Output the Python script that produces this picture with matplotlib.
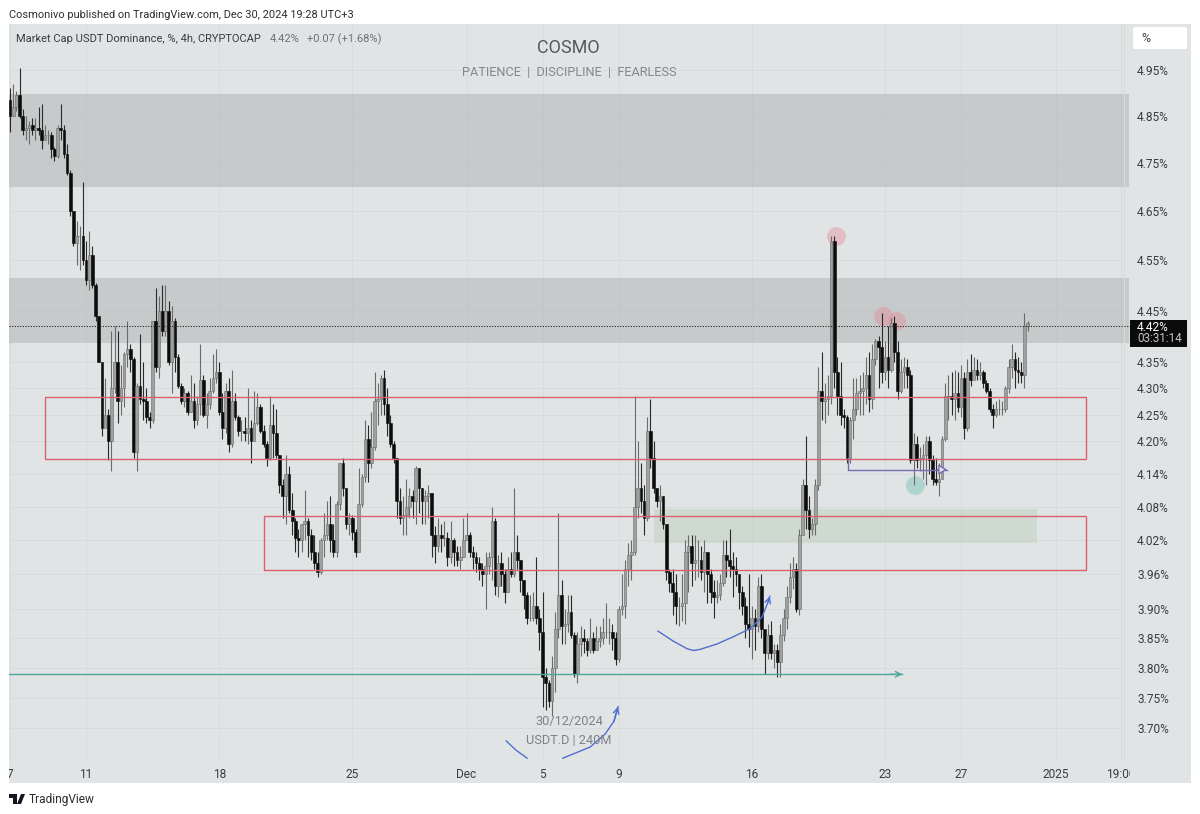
from matplotlib import pyplot as plt
from matplotlib.patches import Rectangle, FancyBboxPatch, Polygon
from matplotlib.transforms import Bbox

first_open = 4.885

# 4h bars, one row per day, Nov 7 .. Dec 30
closes = [
    4.85, 4.87, 4.895, 4.85, 4.82, 4.825,
    4.83, 4.82, 4.825, 4.82, 4.80, 4.81,
    4.81, 4.78, 4.765, 4.825, 4.82, 4.77,
    4.73, 4.65, 4.585, 4.60, 4.60, 4.55,
    4.51, 4.56, 4.50, 4.44, 4.35, 4.225,
    4.25, 4.20, 4.30, 4.35, 4.275, 4.30,
    4.365, 4.375, 4.355, 4.18, 4.305, 4.28,
    4.275, 4.245, 4.24, 4.43, 4.34, 4.45,
    4.41, 4.45, 4.35, 4.43, 4.36, 4.305,
    4.275, 4.29, 4.255, 4.275, 4.24, 4.27,
    4.315, 4.25, 4.27, 4.295, 4.32, 4.33,
    4.255, 4.225, 4.295, 4.195, 4.275, 4.245,
    4.22, 4.22, 4.215, 4.225, 4.20, 4.235,
    4.265, 4.22, 4.195, 4.17, 4.23, 4.215,
    4.175, 4.12, 4.10, 4.14, 4.075, 4.055,
    4.025, 4.02, 4.05, 4.055, 4.03, 4.00,
    3.98, 3.965, 4.02, 4.03, 4.05, 4.02,
    4.00, 4.085, 4.16, 4.115, 4.05, 4.06,
    4.035, 4.00, 4.085, 4.135, 4.205, 4.16,
    4.19, 4.275, 4.28, 4.32, 4.27, 4.235,
    4.195, 4.17, 4.09, 4.06, 4.065, 4.08,
    4.10, 4.09, 4.15, 4.115, 4.09, 4.10,
    4.105, 4.03, 4.01, 4.03, 4.025, 4.025,
    3.99, 4.02, 4.00, 3.985, 3.99, 4.02,
    4.03, 4.00, 3.99, 3.98, 3.97, 3.96,
    3.975, 3.99, 4.055, 3.94, 3.98, 3.96,
    3.93, 3.97, 3.96, 4.00, 3.985, 3.95,
    3.925, 3.885, 3.885, 3.905, 3.885, 3.86,
    3.785, 3.775, 3.745, 3.80, 3.865, 3.925,
    3.87, 3.875, 3.895, 3.855, 3.79, 3.84,
    3.85, 3.845, 3.83, 3.85, 3.83, 3.845,
    3.85, 3.86, 3.86, 3.86, 3.85, 3.815,
    3.90, 3.905, 3.97, 3.995, 4.00, 4.08,
    4.115, 4.09, 4.06, 4.22, 4.17, 4.115,
    4.09, 4.10, 4.05, 3.965, 3.945, 3.93,
    3.905, 3.905, 3.91, 4.00, 4.01, 3.98,
    3.985, 3.985, 3.965, 4.00, 3.96, 3.93,
    3.92, 3.925, 3.945, 3.995, 3.985, 3.975,
    3.97, 3.96, 3.93, 3.905, 3.875, 3.865,
    3.885, 3.87, 3.94, 3.865, 3.825, 3.855,
    3.825, 3.83, 3.81, 3.855, 3.885, 3.92,
    3.955, 3.97, 3.90, 4.03, 4.12, 4.075,
    4.04, 4.05, 4.12, 4.295, 4.275, 4.28,
    4.285, 4.59, 4.33, 4.285, 4.25, 4.245,
    4.17, 4.24, 4.26, 4.29, 4.295, 4.30,
    4.325, 4.28, 4.355, 4.39, 4.38, 4.33,
    4.36, 4.335, 4.425, 4.37, 4.295, 4.33,
    4.34, 4.325, 4.165, 4.195, 4.165, 4.17,
    4.175, 4.20, 4.165, 4.13, 4.125, 4.13,
    4.205, 4.285, 4.285, 4.28, 4.29, 4.265,
    4.32, 4.225, 4.33, 4.315, 4.335, 4.325,
    4.33, 4.31, 4.295, 4.26, 4.25, 4.26,
    4.26, 4.26, 4.30, 4.34, 4.355, 4.335,
    4.33, 4.325, 4.42, 4.425,
]
highs = [
    4.91, 4.92, 4.905, 4.955, 4.865, 4.85,
    4.84, 4.845, 4.845, 4.87, 4.875, 4.83,
    4.82, 4.815, 4.785, 4.83, 4.875, 4.83,
    4.79, 4.735, 4.65, 4.63, 4.62, 4.71,
    4.59, 4.61, 4.58, 4.505, 4.44, 4.35,
    4.32, 4.26, 4.41, 4.42, 4.41, 4.345,
    4.37, 4.43, 4.385, 4.36, 4.31, 4.405,
    4.35, 4.30, 4.255, 4.43, 4.495, 4.48,
    4.50, 4.50, 4.47, 4.46, 4.435, 4.365,
    4.31, 4.30, 4.295, 4.325, 4.31, 4.285,
    4.385, 4.325, 4.29, 4.32, 4.365, 4.375,
    4.35, 4.29, 4.31, 4.32, 4.335, 4.29,
    4.25, 4.24, 4.245, 4.30, 4.24, 4.295,
    4.29, 4.27, 4.23, 4.20, 4.285, 4.27,
    4.26, 4.175, 4.13, 4.175, 4.155, 4.105,
    4.06, 4.04, 4.05, 4.11, 4.06, 4.04,
    4.03, 4.00, 4.025, 4.07, 4.09, 4.10,
    4.05, 4.09, 4.16, 4.17, 4.115, 4.07,
    4.065, 4.04, 4.15, 4.14, 4.24, 4.23,
    4.255, 4.33, 4.31, 4.325, 4.335, 4.30,
    4.25, 4.20, 4.17, 4.115, 4.10, 4.13,
    4.115, 4.11, 4.155, 4.15, 4.115, 4.11,
    4.12, 4.105, 4.045, 4.06, 4.05, 4.055,
    4.035, 4.055, 4.025, 4.01, 4.01, 4.06,
    4.07, 4.035, 4.01, 4.00, 3.99, 3.98,
    4.00, 4.00, 4.08, 4.06, 3.995, 4.00,
    3.97, 3.99, 4.00, 4.115, 4.03, 3.985,
    3.95, 3.93, 3.925, 3.93, 3.99, 3.90,
    3.93, 3.80, 3.78, 3.82, 3.895, 4.07,
    3.95, 3.90, 3.925, 3.925, 3.86, 3.86,
    3.87, 3.865, 3.85, 3.885, 3.86, 3.87,
    3.87, 3.885, 3.91, 3.885, 3.875, 3.86,
    3.905, 3.96, 3.985, 4.015, 4.02, 4.285,
    4.20, 4.16, 4.12, 4.245, 4.28, 4.20,
    4.115, 4.12, 4.10, 4.05, 3.97, 3.97,
    3.96, 3.92, 3.96, 4.02, 4.03, 4.03,
    4.03, 4.02, 4.01, 4.02, 4.00, 3.97,
    3.95, 3.95, 3.96, 4.02, 4.02, 4.04,
    4.00, 3.99, 3.95, 3.94, 3.92, 3.96,
    3.905, 3.90, 3.955, 3.96, 3.86, 3.875,
    3.88, 3.84, 3.84, 3.875, 3.90, 3.94,
    3.98, 3.99, 3.98, 4.04, 4.13, 4.21,
    4.10, 4.06, 4.13, 4.34, 4.37, 4.31,
    4.325, 4.60, 4.60, 4.36, 4.35, 4.26,
    4.25, 4.245, 4.32, 4.32, 4.325, 4.33,
    4.36, 4.37, 4.385, 4.395, 4.40, 4.445,
    4.39, 4.42, 4.435, 4.44, 4.39, 4.355,
    4.36, 4.355, 4.335, 4.215, 4.21, 4.19,
    4.195, 4.21, 4.21, 4.175, 4.17, 4.16,
    4.21, 4.31, 4.325, 4.33, 4.335, 4.33,
    4.345, 4.33, 4.355, 4.365, 4.36, 4.355,
    4.35, 4.335, 4.315, 4.30, 4.27, 4.275,
    4.28, 4.275, 4.305, 4.355, 4.385, 4.37,
    4.36, 4.35, 4.445, 4.43,
]
lows = [
    4.815, 4.85, 4.86, 4.845, 4.81, 4.80,
    4.79, 4.81, 4.80, 4.81, 4.78, 4.80,
    4.79, 4.76, 4.755, 4.76, 4.80, 4.76,
    4.725, 4.64, 4.58, 4.54, 4.53, 4.54,
    4.50, 4.49, 4.495, 4.43, 4.35, 4.21,
    4.225, 4.165, 4.145, 4.29, 4.235, 4.25,
    4.265, 4.34, 4.33, 4.17, 4.145, 4.27,
    4.24, 4.235, 4.225, 4.235, 4.33, 4.32,
    4.40, 4.40, 4.345, 4.29, 4.33, 4.30,
    4.27, 4.265, 4.25, 4.255, 4.225, 4.23,
    4.25, 4.245, 4.225, 4.26, 4.29, 4.31,
    4.25, 4.205, 4.215, 4.18, 4.19, 4.24,
    4.21, 4.20, 4.20, 4.195, 4.16, 4.20,
    4.23, 4.215, 4.19, 4.155, 4.165, 4.17,
    4.17, 4.105, 4.06, 4.05, 4.07, 4.03,
    4.00, 3.99, 4.00, 4.02, 3.99, 3.985,
    3.97, 3.955, 3.96, 3.99, 4.02, 4.00,
    3.99, 3.99, 4.075, 4.10, 4.04, 4.03,
    4.02, 3.99, 4.00, 4.08, 4.125, 4.125,
    4.15, 4.185, 4.23, 4.25, 4.25, 4.21,
    4.19, 4.16, 4.06, 4.05, 4.03, 4.03,
    4.06, 4.06, 4.05, 4.07, 4.05, 4.05,
    4.06, 3.99, 3.98, 4.00, 4.00, 4.01,
    3.975, 3.98, 3.975, 3.975, 3.97, 3.99,
    4.02, 3.99, 3.97, 3.965, 3.95, 3.94,
    3.90, 3.96, 3.95, 3.925, 3.92, 3.94,
    3.91, 3.93, 3.955, 3.955, 3.97, 3.93,
    3.90, 3.875, 3.88, 3.88, 3.875, 3.83,
    3.735, 3.73, 3.735, 3.72, 3.76, 3.85,
    3.84, 3.84, 3.86, 3.85, 3.785, 3.775,
    3.82, 3.825, 3.82, 3.825, 3.825, 3.83,
    3.835, 3.84, 3.85, 3.84, 3.83, 3.805,
    3.81, 3.89, 3.885, 3.94, 3.95, 3.995,
    4.06, 4.07, 4.03, 4.055, 4.15, 4.105,
    4.08, 4.055, 4.04, 3.95, 3.93, 3.89,
    3.875, 3.87, 3.88, 3.875, 3.93, 3.94,
    3.95, 3.955, 3.95, 3.93, 3.91, 3.91,
    3.885, 3.91, 3.915, 3.94, 3.955, 3.955,
    3.92, 3.94, 3.90, 3.89, 3.85, 3.835,
    3.815, 3.83, 3.86, 3.85, 3.79, 3.815,
    3.815, 3.80, 3.785, 3.785, 3.845, 3.865,
    3.91, 3.935, 3.895, 3.89, 4.03, 4.04,
    4.025, 4.03, 4.03, 4.11, 4.24, 4.235,
    4.25, 4.27, 4.30, 4.25, 4.23, 4.225,
    4.16, 4.16, 4.205, 4.25, 4.25, 4.25,
    4.27, 4.255, 4.26, 4.345, 4.30, 4.31,
    4.315, 4.30, 4.33, 4.35, 4.28, 4.29,
    4.30, 4.30, 4.16, 4.12, 4.15, 4.145,
    4.13, 4.12, 4.14, 4.12, 4.12, 4.10,
    4.13, 4.20, 4.24, 4.25, 4.24, 4.255,
    4.245, 4.205, 4.22, 4.305, 4.32, 4.315,
    4.315, 4.30, 4.29, 4.255, 4.225, 4.245,
    4.25, 4.25, 4.255, 4.29, 4.32, 4.30,
    4.31, 4.31, 4.30, 4.41,
]
opens = [first_open] + closes[:-1]

price_ticks = [4.95, 4.85, 4.75, 4.65, 4.55, 4.45, 4.35, 4.30, 4.25, 4.20, 4.14,
               4.08, 4.02, 3.96, 3.90, 3.85, 3.80, 3.75, 3.70]
date_ticks = [0, 24, 66, 108, 144, 168, 192, 234, 276, 300, 330, 350.4]
date_labels = ['7', '11', '18', '25', 'Dec', '5', '9', '16', '23', '27', '2025', '19:00']

last_price = 4.42
grey_zones = [(4.898, 4.70), (4.515, 4.386)]
red_boxes = [(11.0, 339.4, 4.283, 4.167), (80.1, 339.4, 4.063, 3.967)]
green_box = (203.2, 324.0, 4.076, 4.016)
teal_line = ([-0.3, 281.5], [3.789, 3.789])
purple_x = [264.4, 264.4, 295.6]
purple_y = [4.17, 4.148, 4.148]
pink_x = [260.5, 275.5, 279.5]
pink_y = [4.60, 4.44, 4.43]
teal_dot = (285.5, 4.12)
curve1_x = [204.4, 209.2, 213.6, 215.6, 217.7, 223, 228, 233.4, 237.2, 239.1, 239.7]
curve1_y = [3.862, 3.845, 3.832, 3.829, 3.831, 3.84, 3.852, 3.866, 3.886, 3.912, 3.922]
curve2_x = [156.5, 159.6, 163.1]
curve2_y = [3.679, 3.664, 3.651]
curve3_x = [174.4, 179.2, 183, 187.7, 190.5, 191.8]
curve3_y = [3.651, 3.661, 3.669, 3.69, 3.711, 3.735]

W, H = 1200, 814
PANE = '#e1e4e5'
BLUE = '#4f6fd0'


def fx(x):
    return x / W


def fy(y):
    return 1 - y / H


plt.rcParams['font.family'] = ['Roboto', 'DejaVu Sans']

fig = plt.figure(figsize=(12, 8.14), dpi=100, facecolor='white')
fig.add_artist(Rectangle((fx(9), fy(783)), 1182 / W, 759 / H, transform=fig.transFigure,
                         facecolor=PANE, edgecolor='none', zorder=-1))

ax = fig.add_axes([fx(9), fy(760), 1115 / W, 736 / H])
ax.patch.set_alpha(0)
ax.set_yscale('log')
ax.set_xlim(-0.32, 351.4)
ax.set_ylim(3.648, 5.0516)
ax.minorticks_off()

ax.yaxis.tick_right()
ax.set_yticks(price_ticks)
ax.set_yticklabels(['%.2f%%' % p for p in price_ticks], fontsize=8.6, color='#3a3d40', ha='left')
ax.tick_params(axis='y', length=0, pad=9.5)
ax.set_xticks(date_ticks)
ax.set_xticklabels(date_labels, fontsize=8.6, color='#3a3d40')
ax.tick_params(axis='x', length=0, pad=6)
for t in ax.get_xticklabels():
    t.set_clip_box(Bbox([[9, 0], [1130, H]]))
    t.set_clip_on(True)
ax.grid(True, color='#d8dbdd', lw=0.7, zorder=0)
ax.set_axisbelow(True)
for s in ['top', 'left', 'bottom']:
    ax.spines[s].set_visible(False)
ax.spines['right'].set_color('#d8dbdd')

for top, bottom in grey_zones:
    ax.add_patch(Rectangle((-0.32, bottom), 353.3, top - bottom, facecolor='#b0b5b5', alpha=0.55,
                           edgecolor='none', zorder=1, clip_on=False))

gx0, gx1, gtop, gbottom = green_box
ax.add_patch(Rectangle((gx0, gbottom), gx1 - gx0, gtop - gbottom, facecolor='#b9cdb8', alpha=0.45,
                       edgecolor='none', zorder=1))

ax.scatter(pink_x, pink_y, s=185, color='#e58f9a', alpha=0.45, linewidths=0, zorder=2)
ax.scatter([teal_dot[0]], [teal_dot[1]], s=185, color='#7fc4b8', alpha=0.5, linewidths=0, zorder=2)

# candles
for i in range(len(closes)):
    up = closes[i] >= opens[i]
    wick = '#6a6a6a' if up else '#2a2a2a'
    ax.vlines(i, lows[i], highs[i], color=wick, lw=0.8, zorder=3)
    ax.bar(i, abs(closes[i] - opens[i]), bottom=min(opens[i], closes[i]), width=0.85,
           color='#a0a0a0' if up else '#0c0c0c', edgecolor='#6a6a6a' if up else '#0c0c0c',
           linewidth=0.4, zorder=4)

ax.axhline(last_price, color='#222222', lw=0.8, ls=(0, (1, 1.4)), zorder=5)
ax.plot([351.4, 353.2], [last_price, last_price], color='#222222', lw=0.8, ls=(0, (1, 1.4)),
        clip_on=False, zorder=5)

for x0, x1, top, bottom in red_boxes:
    ax.add_patch(Rectangle((x0, bottom), x1 - x0, top - bottom, fill=False, edgecolor='#d9606c',
                           lw=1.0, zorder=6))

ax.plot(teal_line[0], teal_line[1], color='#4ba89a', lw=1.0, zorder=6)
ax.annotate('', xy=(teal_line[0][1], teal_line[1][1]), xytext=(teal_line[0][1] - 4, teal_line[1][1]),
            arrowprops=dict(arrowstyle='->', color='#4ba89a', lw=1.0, shrinkA=0, shrinkB=0), zorder=6)

ax.plot(purple_x, purple_y, color='#7b6bb5', lw=1.0, zorder=6)
ax.annotate('', xy=(purple_x[-1], purple_y[-1]), xytext=(purple_x[-1] - 3, purple_y[-1]),
            arrowprops=dict(arrowstyle='-|>,head_width=0.3,head_length=0.5', fc=PANE, ec='#7b6bb5',
                            lw=1.0, shrinkA=0, shrinkB=0), zorder=6)

ax.plot(curve1_x, curve1_y, color=BLUE, lw=1.0, zorder=7)
ax.plot(curve2_x, curve2_y, color=BLUE, lw=1.0, zorder=7)
ax.plot(curve3_x, curve3_y, color=BLUE, lw=1.0, zorder=7)
for cx, cy in [(curve1_x, curve1_y), (curve3_x, curve3_y)]:
    ax.annotate('', xy=(cx[-1], cy[-1]), xytext=(cx[-2], cy[-2]),
                arrowprops=dict(arrowstyle='->', color=BLUE, lw=1.0, shrinkA=0, shrinkB=0), zorder=7)

# texts around the chart
fig.text(fx(9), fy(15), 'Cosmonivo published on TradingView.com, Dec 30, 2024 19:28 UTC+3',
         fontsize=7.95, color='#2a2e33', va='center')
fig.text(fx(16), fy(39), 'Market Cap USDT Dominance, %, 4h, CRYPTOCAP', fontsize=8.0, color='#3a3d40', va='center')
fig.text(fx(270), fy(39), '4.42%', fontsize=8.0, color='#6d7175', va='center')
fig.text(fx(307), fy(39), '+0.07 (+1.68%)', fontsize=8.0, color='#6d7175', va='center')

fig.text(fx(568), fy(48), 'COSMO', fontsize=13, color='#55595d', ha='center', va='center')
fig.text(fx(569), fy(72), 'PATIENCE  |  DISCIPLINE  |  FEARLESS', fontsize=9.2, color='#82888c',
         ha='center', va='center')
fig.text(fx(569), fy(721), '30/12/2024', fontsize=9.2, color='#7e8286', ha='center', va='center', zorder=5)
fig.text(fx(569), fy(741), 'USDT.D | 240M', fontsize=9.2, color='#7e8286', ha='center', va='center', zorder=5)

fig.add_artist(FancyBboxPatch((fx(1133), fy(49)), 54 / W, 22 / H, transform=fig.transFigure,
                              boxstyle='round,pad=0,rounding_size=0.002', facecolor='white',
                              edgecolor='none', zorder=3))
fig.text(fx(1141), fy(38), '%', fontsize=8.8, color='#3a3d40', va='center', zorder=4)

fig.add_artist(Rectangle((fx(1130), fy(347)), 57 / W, 27 / H, transform=fig.transFigure,
                         facecolor='#0b0b0b', edgecolor='none', zorder=3))
fig.text(fx(1137), fy(327), '4.42%', fontsize=8.6, color='white', va='center', zorder=4)
fig.text(fx(1137), fy(339), '03:31:14', fontsize=8.4, color='#c4c6c8', va='center', zorder=4)

# logo
logo = [[(9, 794), (17, 794), (17, 804), (13, 804), (13, 798), (9, 798)],
        [(21, 794), (25, 794), (21, 804), (17, 804)]]
for shape in logo:
    fig.add_artist(Polygon([(fx(x), fy(y)) for x, y in shape], closed=True,
                           transform=fig.transFigure, facecolor='#131722', edgecolor='none'))
fig.text(fx(29), fy(799), 'TradingView', fontsize=8.6, color='#2a2e33', va='center')

plt.savefig('out.png', dpi=100)
